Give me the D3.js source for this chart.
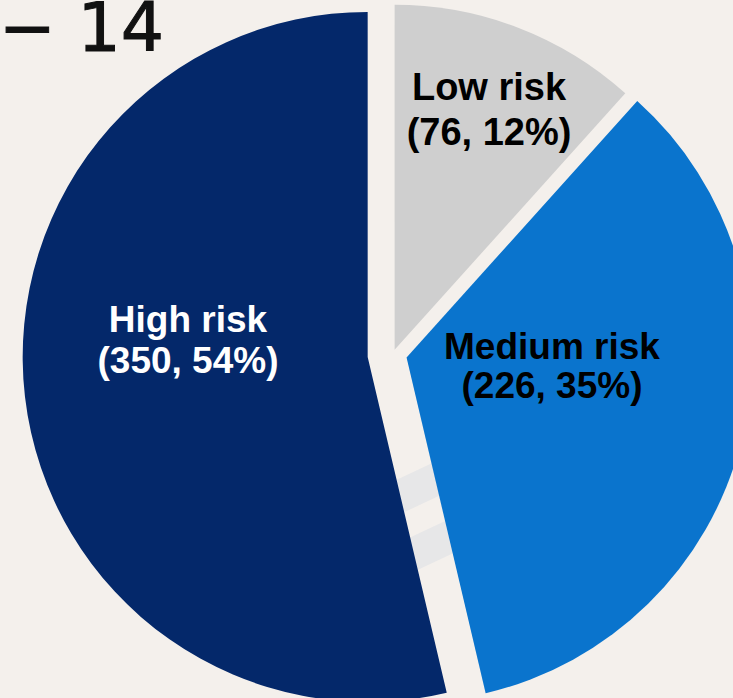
<!DOCTYPE html>
<html>
<head>
<meta charset="utf-8">
<script src="https://cdn.jsdelivr.net/npm/d3@7"></script>
<style>
  html, body { margin: 0; padding: 0; background: #f4f0ec; }
  svg { display: block; }
</style>
</head>
<body>
<svg id="chart" width="733" height="698"></svg>
<script>
// Risk group breakdown
const categories = ["Low risk", "Medium risk", "High risk"];
const counts = [76, 226, 350];
const percents = [12, 35, 54];
const headerText = "\u2212 14";

// Styling / layout
const sliceColors = ["#cfcfcf", "#0a74cd", "#04286a"];
const labelColors = ["#000000", "#000000", "#ffffff"];
const explode = [4.5, 14, 25.5];           // outward shift of each slice, px
const labelOffsets = [[96, -254], [159, 5], [-205, -22]]; // first-line anchor from pie centre
const lineGaps = [45, 39, 41];
const fontSizes = [38, 37, 37];

const width = 733, height = 698;
const cx = 393, cy = 354, radius = 345;

const svg = d3.select("#chart");

svg.append("rect").attr("width", width).attr("height", height).attr("fill", "#f4f0ec");

// faint backdrop bands
const bands = svg.append("g").attr("fill", "#e7e7e8");
[[0, 0], [0, 64]].forEach(([dx, dy]) => {
  bands.append("path")
    .attr("d", `M${360 + dx},${497 + dy} L${460 + dx},${450 + dy} L${460 + dx},${486 + dy} L${360 + dx},${533 + dy} Z`);
});

// header text
svg.append("text")
  .attr("x", -1)
  .attr("y", 51)
  .attr("font-family", "DejaVu Sans")
  .attr("font-size", 68)
  .attr("fill", "#111")
  .attr("stroke", "#111")
  .attr("stroke-width", 1)
  .text(headerText);

const data = categories.map((c, i) => ({ name: c, count: counts[i], pct: percents[i], i }));

const pie = d3.pie().sort(null).value(d => d.count).startAngle(0).endAngle(2 * Math.PI);
const arc = d3.arc().innerRadius(0).outerRadius(radius);

const arcs = pie(data);

const g = svg.append("g").attr("transform", `translate(${cx},${cy})`);

g.selectAll("path.slice")
  .data(arcs)
  .join("path")
  .attr("class", "slice")
  .attr("fill", d => sliceColors[d.data.i])
  .attr("transform", d => {
    const mid = (d.startAngle + d.endAngle) / 2;
    const off = explode[d.data.i];
    return `translate(${Math.sin(mid) * off},${-Math.cos(mid) * off})`;
  })
  .attr("d", arc);

const labels = g.selectAll("text.lbl")
  .data(arcs)
  .join("text")
  .attr("class", "lbl")
  .attr("text-anchor", "middle")
  .attr("font-family", "Liberation Sans, Arial, sans-serif")
  .attr("font-weight", "bold")
  .attr("font-size", d => fontSizes[d.data.i])
  .attr("fill", d => labelColors[d.data.i]);

labels.append("tspan")
  .attr("x", d => labelOffsets[d.data.i][0])
  .attr("y", d => labelOffsets[d.data.i][1])
  .text(d => d.data.name);

labels.append("tspan")
  .attr("x", d => labelOffsets[d.data.i][0])
  .attr("y", d => labelOffsets[d.data.i][1] + lineGaps[d.data.i])
  .text(d => `(${d.data.count}, ${d.data.pct}%)`);
</script>
</body>
</html>
